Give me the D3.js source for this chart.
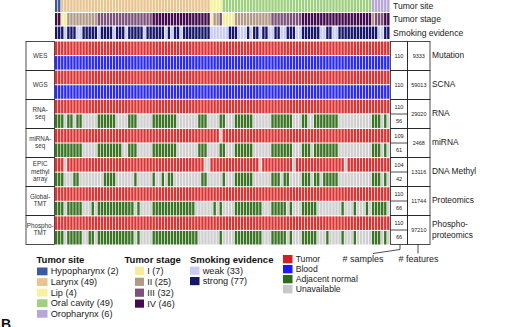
<!DOCTYPE html>
<html>
<head>
<meta charset="utf-8">
<script src="https://cdn.jsdelivr.net/npm/d3@7"></script>
<style>
body { margin: 0; background: #fff; }
svg { display: block; font-family: "Liberation Sans", Arial, sans-serif; }
</style>
</head>
<body>
<div id="chart"></div>
<script>
// --- data (one char per sample, 110 samples) ---
const siteKeys = ["H", "L", "P", "O", "R"];
const siteLabels = ["Hypopharynx (2)", "Larynx (49)", "Lip (4)", "Oral cavity (49)", "Oropharynx (6)"];
const stageKeys = ["1", "2", "3", "4"];
const stageLabels = ["I (7)", "II (25)", "III (32)", "IV (46)"];
const smokeKeys = ["w", "s"];
const smokeLabels = ["weak (33)", "strong (77)"];
const tissueKeys = ["T", "B", "N", "-"];
const tissueLabels = ["Tumor", "Blood", "Adjacent normal", "Unavailable"];

const tumorSite =
  "HHLLLLLLLL LLLLLLLLLL LLLLLLLLLL LLLLLLLLLL LLLLLLLLLL LPPPPOOOOO OOOOOOOOOO OOOOOOOOOO OOOOOOOOOO OOOOOOOOOO OOOORRRRRR";
const tumorStage =
  "4411222222 2222333333 3333333333 3344444444 4444444444 4122311112 2222222222 2333333333 3444444444 4444444444 4444233344";
const smoking =
  "ssswssswws sssswssssw ssswsssssw sssssswsws swssssssss swwwwwwsss wwwswsswss wwsswwsssw wsssssswws swwsssssss sssssswwss";

const wesTumor  = "TTTTTTTTTT TTTTTTTTTT TTTTTTTTTT TTTTTTTTTT TTTTTTTTTT TTTTTTTTTT TTTTTTTTTT TTTTTTTTTT TTTTTTTTTT TTTTTTTTTT TTTTTTTTTT";
const wesBlood  = "BBBBBBBBBB BBBBBBBBBB BBBBBBBBBB BBBBBBBBBB BBBBBBBBBB BBBBBBBBBB BBBBBBBBBB BBBBBBBBBB BBBBBBBBBB BBBBBBBBBB BBBBBBBBBB";
const wgsTumor  = "TTTTTTTTTT TTTTTTTTTT TTTTTTTTTT TTTTTTTTTT TTTTTTTTTT TTTTTTTTTT TTTTTTTTTT TTTTTTTTTT TTTTTTTTTT TTTTTTTTTT TTTTTTTTTT";
const wgsBlood  = "BBBBBBBBBB BBBBBBBBBB BBBBBBBBBB BBBBBBBBBB BBBBBBBBBB BBBBBBBBBB BBBBBBBBBB BBBBBBBBBB BBBBBBBBBB BBBBBBBBBB BBBBBBBBBB";
const rnaTumor  = "TTTTTTTTTT TTTTTTTTTT TTTTTTTTTT TTTTTTTTTT TTTTTTTTTT TTTTTTTTTT TTTTTTTTTT TTTTTTTTTT TTTTTTTTTT TTTTTTTTTT TTTTTTTTTT";
const rnaNormal = "NNN-NN-NN- ----NNNNNN ----NNN--- --NNNNNNNN -------NNN ----NN---N NNNNN----- -NNNNNNN-- -NN--NNNNN NNN------- ----NNN-N-";
const mirTumor  = "TTTTTTTTTT TTTTTTTTTT TTTTTTTTTT TTTTTTTTTT TTTTTTTTTT TTTT-TTTTT TTTTTTTTTT TTTTTTTTTT TTTTTTTTTT TTTTTTTTTT TTTTTTTTTT";
const mirNormal = "NNNNNNNNN- ----NNNNNN NN--NNN--- --NNNNNNNN -------NNN ----NN---N NNNNN----- -NNNNNNN-- -NNN-NNNNN NNN------- ----NNN-N-";
const metTumor  = "TTT-TTTTTT TTTTTTTTTT TTTTTTTTTT TTTTTTTTTT TTTTTTTTT- -TTTTTTTTT TTTTTTT-TT TTTTTTTT-T TTTTTTTTTT TTTTT-TTTT TTTTTTTTTT";
const metNormal = "NNN---NN-- ------NNNN ------N--- --N--N-NN- --------NN -----N---N NNNNN----- -NNN-NN--- -NNN-NN-NN NNN------- ----NNN-N-";
const gloTumor  = "TTTTTTTTTT TTTTTTTTTT TTTTTTTTTT TTTTTTTTTT TTTTTTTTTT TTTTTTTTTT TTTTTTTTTT TTTTTTTTTT TTTTTTTTTT TTTTTTTTTT TTTTTTTTTT";
const gloNormal = "NNN-NNNNN- --N-NNNNNN NNNNNN-N-- --NNNNNNNN NNNNNN---- --N-N----N NNNNNNNN-- -NNNNN-N-- -NNNNN---- ----N---N- --N-NNNNN-";
const phoTumor  = "TTTTTTTTTT TTTTTTTTTT TTTTTTTTTT TTTTTTTTTT TTTTTTTTTT TTTTTTTTTT TTTTTTTTTT TTTTTTTTTT TTTTTTTTTT TTTTTTTTTT TTTTTTTTTT";
const phoNormal = "NNN-NNNNN- -NN-NNNNNN NNNNNN-N-- --NNNNNNNN NNNNNNN--- ----N----N NNNNNNNN-- -NNNNN-N-- -NNNNN---N ----N---N- ----NNN-N-";

const tissueRows = [wesTumor, wesBlood, wgsTumor, wgsBlood, rnaTumor, rnaNormal, mirTumor, mirNormal,
                    metTumor, metNormal, gloTumor, gloNormal, phoTumor, phoNormal];

const blockLabels = [["WES"], ["WGS"], ["RNA-", "seq"], ["miRNA-", "seq"], ["EPIC", "methyl", "array"], ["Global-", "TMT"], ["Phospho-", "TMT"]];
const dataTypes = [["Mutation"], ["SCNA"], ["RNA"], ["miRNA"], ["DNA Methyl"], ["Proteomics"], ["Phospho-", "proteomics"]];
const sampleCounts = [[110], [110], [110, 56], [109, 61], [104, 42], [110, 66], [110, 66]];
const featureCounts = [9333, 59013, 29020, 2468, 13116, 11744, 97210];
const annoLabels = ["Tumor site", "Tumor stage", "Smoking evidence"];

// --- colours ---
const siteColor = d3.scaleOrdinal(siteKeys, ["#3d5a9e", "#e9c48f", "#f6f39a", "#9ed07f", "#b7a7d6"]);
const stageColor = d3.scaleOrdinal(stageKeys, ["#f4ee9c", "#b19a88", "#7d527a", "#420b4b"]);
const smokeColor = d3.scaleOrdinal(smokeKeys, ["#c9cbf2", "#16176b"]);
const tissueColor = d3.scaleOrdinal(tissueKeys, ["#dc3434", "#2a2af2", "#3a7424", "#cfcfcf"]);
const tissueLegendColor = d3.scaleOrdinal(tissueKeys, ["#d11f26", "#1a1aff", "#2f6b1a", "#c8c8c8"]);

const parse = s => s.replace(/ /g, "").split("");

const width = 515, height = 327;
const svg = d3.select("#chart").append("svg")
    .attr("width", width)
    .attr("height", height);

const nSamples = parse(tumorSite).length;
const x = d3.scaleBand()
    .domain(d3.range(nSamples))
    .range([55, 389.5])
    .paddingInner(0.22);

// annotation tracks
const annoY = d3.scaleBand().domain(d3.range(3)).range([-0.5, 39]).paddingInner(0.08);
const annoTracks = [[tumorSite, siteColor], [tumorStage, stageColor], [smoking, smokeColor]];

annoTracks.forEach(([str, color], ti) => {
    svg.append("g")
        .selectAll("rect")
        .data(parse(str))
        .join("rect")
        .attr("x", (d, i) => x(i))
        .attr("y", annoY(ti))
        .attr("width", x.bandwidth())
        .attr("height", annoY.bandwidth())
        .attr("fill", d => color(d));

    svg.append("text")
        .attr("x", 393)
        .attr("y", annoY(ti) + annoY.bandwidth() / 2 + 3)
        .attr("font-size", 8.6)
        .attr("fill", "#222")
        .text(annoLabels[ti]);
});

// sample-type heatmap
const gridTop = 41.5, blockH = 29;
const rowY = d3.scaleBand()
    .domain(d3.range(tissueRows.length))
    .range([gridTop, gridTop + blockH * blockLabels.length])
    .paddingInner(0.07);

tissueRows.forEach((str, ri) => {
    svg.append("g")
        .selectAll("rect")
        .data(parse(str))
        .join("rect")
        .attr("x", (d, i) => x(i))
        .attr("y", rowY(ri))
        .attr("width", x.bandwidth())
        .attr("height", rowY.bandwidth())
        .attr("fill", d => tissueColor(d));
});

// left label boxes, right count boxes
const boxes = svg.append("g").attr("fill", "none").attr("stroke", "#222").attr("stroke-width", 0.8);

blockLabels.forEach((lines, bi) => {
    const y0 = gridTop + bi * blockH;
    const cy = y0 + blockH / 2;

    boxes.append("rect").attr("x", 26).attr("y", y0).attr("width", 28.5).attr("height", blockH);
    boxes.append("rect").attr("x", 390.5).attr("y", y0).attr("width", 17).attr("height", blockH);
    boxes.append("rect").attr("x", 407.5).attr("y", y0).attr("width", 22.5).attr("height", blockH);

    const lh = 7.2;
    lines.forEach((t, li) => {
        svg.append("text")
            .attr("x", 40.2)
            .attr("y", cy + (li - (lines.length - 1) / 2) * lh)
            .attr("text-anchor", "middle")
            .attr("dominant-baseline", "middle")
            .attr("font-size", 6.3)
            .attr("fill", "#333")
            .text(t);
    });

    const counts = sampleCounts[bi];
    if (counts.length === 1) {
        svg.append("text")
            .attr("x", 399).attr("y", cy + 1)
            .attr("text-anchor", "middle").attr("dominant-baseline", "middle")
            .attr("font-size", 5.6).attr("fill", "#222")
            .text(counts[0]);
    } else {
        boxes.append("line").attr("x1", 390.5).attr("x2", 407.5).attr("y1", cy).attr("y2", cy);
        counts.forEach((c, ci) => {
            svg.append("text")
                .attr("x", 399).attr("y", y0 + blockH * (ci * 2 + 1) / 4 + 0.5)
                .attr("text-anchor", "middle").attr("dominant-baseline", "middle")
                .attr("font-size", 5.6).attr("fill", "#222")
                .text(c);
        });
    }

    svg.append("text")
        .attr("x", 418.8).attr("y", cy + 0.5)
        .attr("text-anchor", "middle").attr("dominant-baseline", "middle")
        .attr("font-size", 5.5).attr("fill", "#222")
        .text(featureCounts[bi]);

    const types = dataTypes[bi];
    types.forEach((t, li) => {
        svg.append("text")
            .attr("x", 432)
            .attr("y", cy + (li - (types.length - 1) / 2) * 11)
            .attr("dominant-baseline", "middle")
            .attr("font-size", 8.4)
            .attr("fill", "#222")
            .text(t);
    });
});

// "# samples" / "# features" pointers
const gridBottom = gridTop + blockH * blockLabels.length;
svg.append("path")
    .attr("d", d3.line()([[400, gridBottom], [400, gridBottom + 5], [373, gridBottom + 9]]))
    .attr("fill", "none").attr("stroke", "#222").attr("stroke-width", 0.8);
svg.append("path")
    .attr("d", d3.line()([[418, gridBottom], [418, gridBottom + 9]]))
    .attr("fill", "none").attr("stroke", "#222").attr("stroke-width", 0.8);
svg.append("text").attr("x", 383.5).attr("y", 262).attr("text-anchor", "end")
    .attr("font-size", 9).attr("fill", "#222").text("# samples");
svg.append("text").attr("x", 418.5).attr("y", 261.5).attr("text-anchor", "middle")
    .attr("font-size", 9).attr("fill", "#222").text("# features");

// legends
function legend(title, titleX, x0, y0, keys, labels, color, step, sw, sh, fs) {
    const g = svg.append("g");
    if (title) {
        g.append("text").attr("x", titleX).attr("y", 262.5)
            .attr("font-size", 9.5).attr("font-weight", "bold").attr("fill", "#111")
            .text(title);
    }
    keys.forEach((k, i) => {
        g.append("rect")
            .attr("x", x0).attr("y", y0 + i * step)
            .attr("width", sw).attr("height", sh)
            .attr("fill", color(k));
        g.append("text")
            .attr("x", x0 + sw + 3.2).attr("y", y0 + i * step + sh / 2 + 0.5)
            .attr("dominant-baseline", "middle")
            .attr("font-size", fs).attr("fill", "#222")
            .text(labels[i]);
    });
}

legend("Tumor site", 36.5, 37, 267.5, siteKeys, siteLabels, siteColor, 10.6, 10.5, 7.8, 9.2);
legend("Tumor stage", 124.5, 135, 266.8, stageKeys, stageLabels, stageColor, 10.9, 9, 8.2, 9.2);
legend("Smoking evidence", 190, 190, 266.6, smokeKeys, smokeLabels, smokeColor, 10.4, 9.5, 8.2, 9.2);
legend(null, 0, 283, 255, tissueKeys, tissueLabels, tissueLegendColor, 10, 9.5, 8.3, 8.6);

// next panel letter (cut off at the bottom edge, as in the source figure)
svg.append("text").attr("x", 1).attr("y", 329)
    .attr("font-size", 14).attr("font-weight", "bold").attr("fill", "#111").text("B");
</script>
</body>
</html>
